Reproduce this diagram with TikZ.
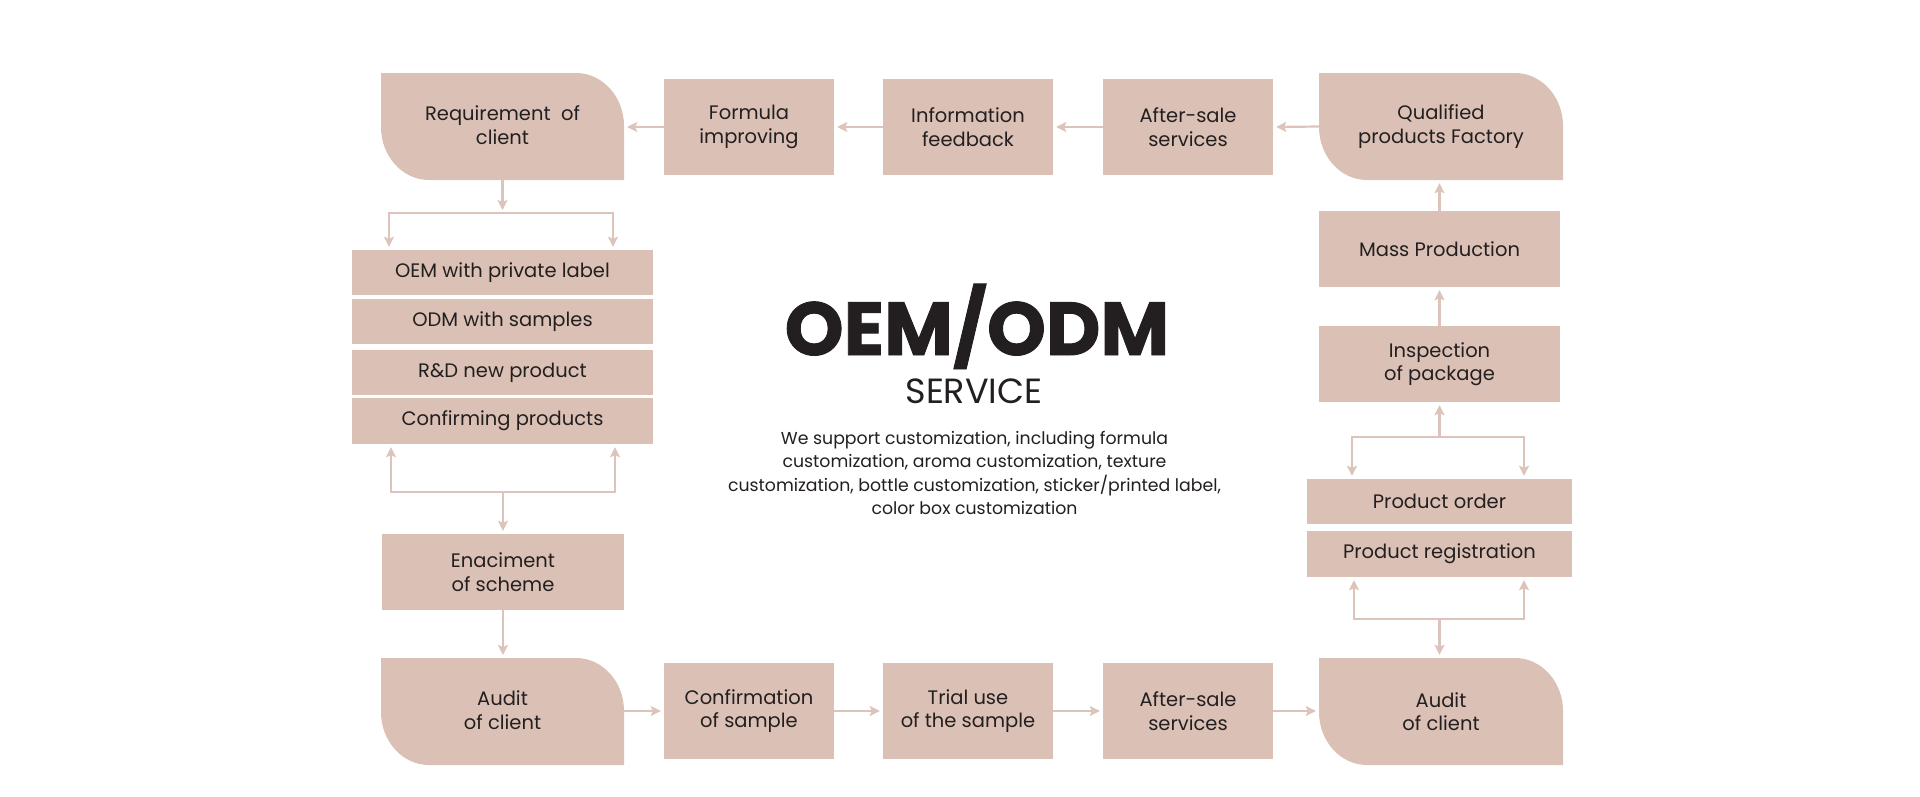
\documentclass[tikz,border=0pt]{standalone}
\usepackage{fontspec}
\setmainfont{Poppins}
\newfontfamily\heavyfont[BoldFeatures={FakeBold=1.2}]{Poppins}
\usetikzlibrary{arrows.meta}
\definecolor{boxc}{HTML}{DBC1B5}
\definecolor{arrc}{HTML}{DCC4BA}
\definecolor{txt}{HTML}{231F20}
\tikzset{
  boxtext/.style={inner sep=0pt, text=txt, align=center, font=\fontsize{19.5}{23.5}\selectfont},
  stepbox/.style={boxtext, fill=boxc},
  softbox/.style={boxtext},
  conn/.style={draw=arrc, line width=2.2pt, shorten >=3pt, -{Stealth[length=10pt,width=10pt,inset=2pt]}},
}
\newcommand{\softshape}[4]{%
  \fill[boxc] (#1,#2) -- ({#3-48},#2) .. controls ({#3-21.5},#2) and (#3,{#2+23.7}) .. (#3,{#2+53})
    -- (#3,#4) -- ({#1+48},#4) .. controls ({#1+21.5},#4) and (#1,{#4-23.7}) .. (#1,{#4-53}) -- cycle;}
\begin{document}
\begin{tikzpicture}[x=1pt,y=-1pt]
\useasboundingbox[fill=white] (0,0) rectangle (1920,796);

% rounded shapes
\softshape{381}{73}{624}{180}
\softshape{1319}{73}{1563}{180}
\softshape{381}{658}{624}{765}
\softshape{1319}{658}{1563}{765}

% top row
\node[softbox, minimum width=243pt, minimum height=107pt] (req) at (502.5,125) {Requirement~ of\\client};
\node[stepbox, minimum width=170pt, minimum height=96pt] (form) at (749,127) {Formula\\improving};
\node[stepbox, minimum width=170pt, minimum height=96pt] (info) at (968,127) {Information\\feedback};
\node[stepbox, minimum width=170pt, minimum height=96pt] (ast) at (1188,127) {After-sale\\services};
\node[softbox, minimum width=244pt, minimum height=107pt] (qual) at (1441,126.5) {Qualified\\products Factory};

% left column
\node[stepbox, minimum width=301pt, minimum height=45pt] (oem) at (502.5,272.5) {OEM with private label};
\node[stepbox, minimum width=301pt, minimum height=45pt] (odm) at (502.5,321.5) {ODM with samples};
\node[stepbox, minimum width=301pt, minimum height=45pt] (rnd) at (502.5,372.5) {R\&D new product};
\node[stepbox, minimum width=301pt, minimum height=46pt] (conf) at (502.5,421) {Confirming products};
\node[stepbox, minimum width=242pt, minimum height=76pt] (ena) at (503,572) {Enaciment\\of scheme};

% bottom row
\node[softbox, minimum width=243pt, minimum height=107pt] (audl) at (502.5,710) {Audit\\of client};
\node[stepbox, minimum width=170pt, minimum height=96pt] (cfs) at (749,711) {Confirmation\\of sample};
\node[stepbox, minimum width=170pt, minimum height=96pt] (trial) at (968,711) {Trial use\\of the sample};
\node[stepbox, minimum width=170pt, minimum height=96pt] (asb) at (1188,711) {After-sale\\services};
\node[softbox, minimum width=244pt, minimum height=107pt] (audr) at (1441,711.5) {Audit\\of client};

% right column
\node[stepbox, minimum width=241pt, minimum height=76pt] (mass) at (1439.5,249) {Mass Production};
\node[stepbox, minimum width=241pt, minimum height=76pt] (insp) at (1439.5,364) {Inspection\\of package};
\node[stepbox, minimum width=265pt, minimum height=45pt] (po) at (1439.5,501.5) {Product order};
\node[stepbox, minimum width=265pt, minimum height=46pt] (pr) at (1439.5,554) {Product registration};

% centre text
\node[inner sep=0pt, text=txt, anchor=base, font=\fontsize{75}{75}\selectfont\heavyfont\bfseries] (title) at (977,355) {OEM/ODM};
\node[inner sep=0pt, text=txt, anchor=base, font=\fontsize{35}{35}\selectfont] (sub) at (974,403) {SERVICE};
\node[inner sep=0pt, text=txt, anchor=north, align=center, font=\fontsize{17.3}{23.3}\selectfont] (para) at (974.5,431)
  {We support customization, including formula\\customization, aroma customization, texture\\customization, bottle customization, sticker/printed label,\\color box customization};

% top row arrows
\draw[conn] (qual.west) -- (ast.east);
\draw[conn] (ast.west) -- (info.east);
\draw[conn] (info.west) -- (form.east);
\draw[conn] (form.west) -- (req.east |- form.west);

% left column arrows
\coordinate (tb) at (502.5,213);
\coordinate (tbl) at (389,213);
\coordinate (tbr) at (613,213);
\draw[conn] (req.south |- 502.5,180) -- (tb);
\draw[conn] (tb) -| (tbl |- oem.north);
\draw[conn] (tb) -| (tbr |- oem.north);
\coordinate (lb) at (503,492);
\coordinate (lbl) at (391,492);
\coordinate (lbr) at (615,492);
\draw[conn] (lb) -| (lbl |- conf.south);
\draw[conn] (lb) -| (lbr |- conf.south);
\draw[conn] (lb) -- (ena.north);
\draw[conn] (ena.south) -- (ena.south |- 503,658);

% bottom row arrows
\draw[conn] (audl.east |- cfs.west) -- (cfs.west);
\draw[conn] (cfs.east) -- (trial.west);
\draw[conn] (trial.east) -- (asb.west);
\draw[conn] (asb.east) -- (audr.west |- asb.east);

% right column arrows
\coordinate (rb) at (1439.5,619);
\coordinate (rbl) at (1354,619);
\coordinate (rbr) at (1524,619);
\draw[conn] (rb) -| (rbl |- pr.south);
\draw[conn] (rb) -| (rbr |- pr.south);
\draw[conn] (rb) -- (audr.north -| rb);
\coordinate (rt) at (1439.5,437);
\coordinate (rtl) at (1352,437);
\coordinate (rtr) at (1524,437);
\draw[conn] (rt) -| (rtl |- po.north);
\draw[conn] (rt) -| (rtr |- po.north);
\draw[conn] (rt) -- (insp.south);
\draw[conn] (insp.north) -- (mass.south);
\draw[conn] (mass.north) -- (mass.north |- qual.south);
\end{tikzpicture}
\end{document}
